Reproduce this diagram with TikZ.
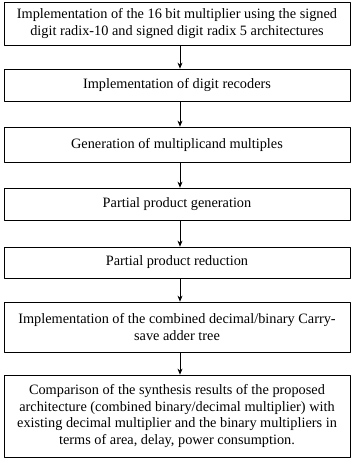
\documentclass[tikz,border=0pt]{standalone}
\usepackage{fontspec}
\setmainfont{Liberation Serif}
\usetikzlibrary{arrows.meta}
\begin{document}
\begin{tikzpicture}[x=1pt,y=1pt,line join=round,>={Stealth[length=6pt,width=5pt]},
    stagebox/.style={draw,line width=0.8pt,minimum width=346pt,inner sep=0pt,
      align=center,font=\fontsize{14.3}{16.7}\selectfont},
    flow/.style={->,line width=0.7pt}]
            \useasboundingbox (0,0) rectangle (353,-459);
            % stages, top to bottom
            \node[stagebox,minimum height=43pt] (S1) at (177,-23.5)
              {Implementation of the 16 bit multiplier using the signed\\
               digit radix-10 and signed digit radix 5 architectures};
            \node[stagebox,minimum height=32pt] (S2) at (177,-85)
              {Implementation of digit recoders};
            \node[stagebox,minimum height=35pt] (S3) at (177,-144.5)
              {Generation of multiplicand multiples};
            \node[stagebox,minimum height=32pt] (S4) at (177,-204)
              {Partial product generation};
            \node[stagebox,minimum height=31pt] (S5) at (177,-262.5)
              {Partial product reduction};
            \node[stagebox,minimum height=50pt] (S6) at (177,-327)
              {Implementation of the combined decimal/binary Carry-\\
               save adder tree};
            \node[stagebox,minimum height=82pt] (S7) at (177,-416)
              {Comparison of the synthesis results of the proposed\\
               architecture (combined binary/decimal multiplier) with\\
               existing decimal multiplier and the binary multipliers in\\
               terms of area, delay, power consumption.};
            % arrows
            \foreach \a/\b in {S1/S2,S2/S3,S3/S4,S4/S5,S5/S6,S6/S7}
              \draw[flow] ([xshift=3pt]\a.south) -- ([xshift=3pt]\b.north);
        \end{tikzpicture}
\end{document}
